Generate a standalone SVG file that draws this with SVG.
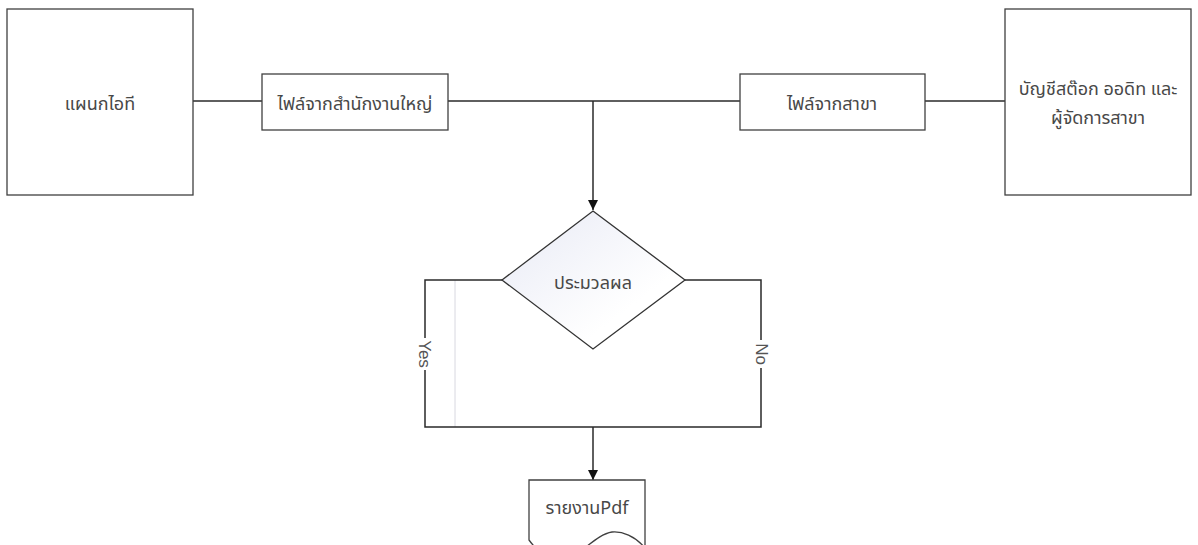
<svg xmlns="http://www.w3.org/2000/svg" width="1198" height="545" viewBox="0 0 1198 545">
<style>
.box{fill:#fff;stroke:#404040;stroke-width:1.3}
.ln{fill:none;stroke:#2a2a2a;stroke-width:1.5}
.t{font-family:"Noto Sans","Noto Sans Thai","Liberation Sans",sans-serif;font-size:18px;fill:#484848;text-anchor:middle;dominant-baseline:central}
.lbl{font-family:"Liberation Sans",Arial,sans-serif;font-size:17px;fill:#555;text-anchor:middle;dominant-baseline:central}
</style>
<defs>
<marker id="arr" viewBox="0 0 10 10" refX="10" refY="5" markerWidth="10" markerHeight="10" markerUnits="userSpaceOnUse" orient="auto"><path d="M0,0 L10,5 L0,10 Z" fill="#111"/></marker>
<linearGradient id="dg" x1="0" y1="0" x2="1" y2="1"><stop offset="0" stop-color="#e8eaf5"/><stop offset="0.7" stop-color="#ffffff"/></linearGradient>
</defs>
<rect width="1198" height="545" fill="#fff"/>
<g id="connectors">
<path class="ln" d="M193,101 H262"/>
<path class="ln" d="M448,101 H740"/>
<path class="ln" d="M925,101 H1005"/>
<path class="ln" d="M593,101 V210" marker-end="url(#arr)"/>
<path d="M455,280 V427" stroke="#d8d8e0" stroke-width="1"/>
<path class="ln" d="M502,280 H425 V427 H761 V280 H685"/>
<path class="ln" d="M593,427 V480" marker-end="url(#arr)"/>
<rect x="415" y="338" width="18" height="32" fill="#fff"/>
<text class="lbl" transform="translate(424,354) rotate(90)">Yes</text>
<rect x="752" y="340" width="18" height="28" fill="#fff"/>
<text class="lbl" transform="translate(761,354) rotate(90)">No</text>
</g>
<g id="it">
<rect class="box" x="7" y="9" width="186" height="186"/>
<text class="t" x="100" y="103">แผนกไอที</text>
</g>
<g id="hqfile">
<rect class="box" x="262" y="74" width="186" height="56"/>
<text class="t" x="355" y="103">ไฟล์จากสำนักงานใหญ่</text>
</g>
<g id="branchfile">
<rect class="box" x="740" y="74" width="185" height="56"/>
<text class="t" x="832" y="103">ไฟล์จากสาขา</text>
</g>
<g id="accounting">
<rect class="box" x="1005" y="9" width="186" height="186"/>
<text class="t" x="1098" y="88">บัญชีสต๊อก ออดิท และ</text>
<text class="t" x="1098" y="117">ผู้จัดการสาขา</text>
</g>
<g id="process">
<path d="M593,211 L685,280 L593,349 L502,280 Z" fill="url(#dg)" stroke="#333" stroke-width="1.3"/>
<text class="t" x="593" y="282">ประมวลผล</text>
</g>
<g id="report">
<path d="M529,480 H645 V548 C635,536 622,531 612,532 C598,534 585,550 570,558 C555,565 540,555 529,540 Z" fill="#fff" stroke="#404040" stroke-width="1.3"/>
<text class="t" x="587" y="507">รายงานPdf</text>
</g>
</svg>
